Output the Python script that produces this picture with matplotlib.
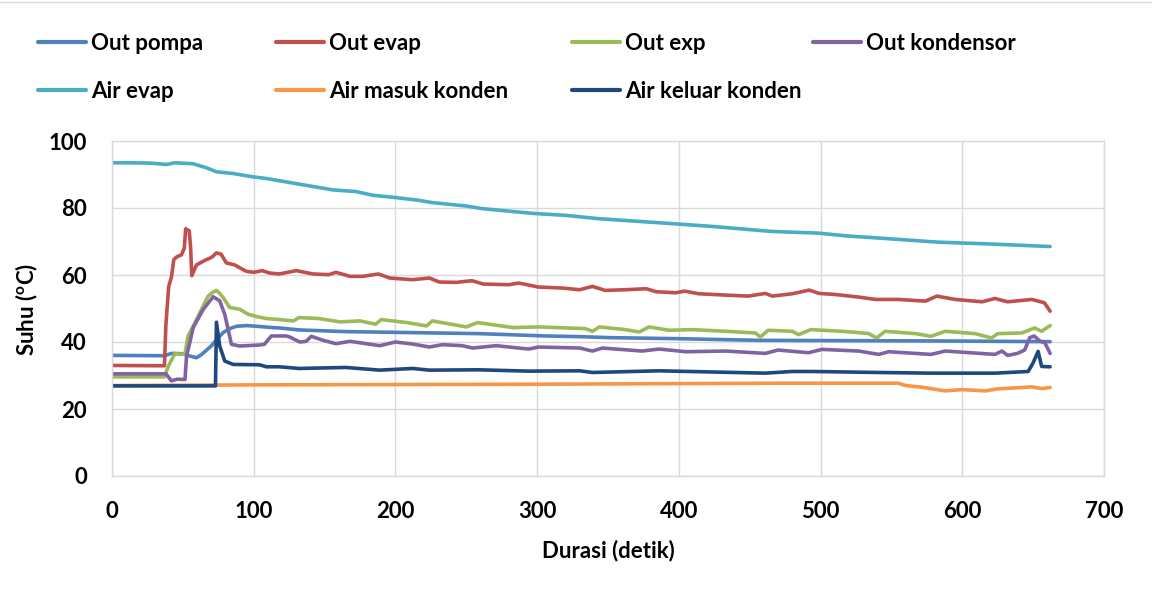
import matplotlib.pyplot as plt
from matplotlib.lines import Line2D

# waktu (detik) dan suhu (oC) tiap sensor
t_pompa = [0, 37, 42, 50, 55, 59.6, 63, 70, 74, 78.4,
           83, 88, 95, 105, 113, 118, 132, 165, 212, 259,
           306, 330, 351, 398, 456, 520, 590, 662]
out_pompa = [36.0, 35.9, 36.6, 36.5, 35.8, 35.3, 36.2, 38.8, 40.8, 42.8,
             44.0, 44.7, 44.9, 44.6, 44.3, 44.2, 43.6, 43.1, 42.8, 42.5,
             41.8, 41.6, 41.3, 41.0, 40.5, 40.4, 40.3, 40.1]

t_evap = [0, 37, 38, 40, 42, 43.6, 46, 49, 51, 52,
          54.5, 55.5, 56.3, 58, 59.6, 63, 66.6, 69, 71, 73.7,
          77, 79, 80.7, 86.6, 90, 94.8, 100, 106, 111, 118,
          130, 142, 153, 158, 168, 177, 188, 196, 212, 224,
          231, 243, 254, 262, 280, 287, 301, 318, 330, 339,
          348, 362, 377, 384, 398, 404, 414, 433, 449, 461,
          466, 480, 492, 499, 510, 527, 539, 555, 574, 582,
          595, 614, 623, 632, 649, 658, 662]
out_evap = [33.0, 32.9, 45, 56.5, 59.5, 64.6, 65.5, 66, 68, 73.8,
            73.2, 68, 59.8, 61.5, 63, 63.8, 64.6, 65, 65.5, 66.6,
            66.2, 64.8, 63.6, 63.0, 62.2, 61.1, 60.8, 61.3, 60.6, 60.3,
            61.3, 60.3, 60.1, 60.8, 59.6, 59.6, 60.3, 59.1, 58.6, 59.1,
            57.9, 57.8, 58.3, 57.3, 57.1, 57.6, 56.4, 56.1, 55.6, 56.6,
            55.4, 55.6, 55.9, 55.0, 54.7, 55.2, 54.4, 54.0, 53.7, 54.5,
            53.7, 54.4, 55.5, 54.5, 54.2, 53.4, 52.7, 52.7, 52.2, 53.7,
            52.7, 52.0, 53.0, 52.0, 52.7, 51.7, 49.2]

t_exp = [0, 37, 40, 44.4, 48, 51.5, 53.7, 57, 60.8, 64,
         67.8, 71, 73.7, 76, 78.4, 83, 90, 96, 101.9, 109,
         118, 128, 132, 146, 161, 175, 186, 190, 208, 222,
         226, 250, 258, 283, 301, 334, 339, 344, 362, 372,
         379, 393, 409, 433, 454, 457.5, 463, 480, 484.5, 493,
         515, 527, 534, 539.6, 545.5, 567, 578, 588, 609, 620.6,
         625, 642, 651, 656, 662]
out_exp = [29.6, 29.6, 33, 36.6, 36.3, 36.5, 41.8, 44.5, 47.7, 50.5,
           53.7, 54.8, 55.4, 54.5, 53.3, 50.3, 49.8, 48.3, 47.6, 47.0,
           46.7, 46.3, 47.3, 47.0, 46.0, 46.3, 45.3, 46.7, 45.8, 44.8,
           46.3, 44.5, 45.8, 44.3, 44.5, 44.0, 43.2, 44.5, 43.7, 43.0,
           44.5, 43.5, 43.7, 43.2, 42.7, 41.5, 43.5, 43.2, 42.2, 43.7,
           43.2, 42.8, 42.5, 41.2, 43.2, 42.5, 41.7, 43.2, 42.5, 41.2,
           42.5, 42.7, 44.2, 43.2, 44.9]

t_kond = [0, 38, 42, 46, 51.5, 52.6, 55, 57.3, 64.3, 71.4,
          76, 79.6, 84.3, 90, 104, 107.5, 112.4, 123, 125.4, 132.4,
          137, 140.6, 149, 158, 168, 189, 200, 212, 224, 233,
          247, 254.5, 271, 287, 294, 301, 330, 339, 346, 374,
          386, 405, 433, 461, 470, 491.5, 501, 527, 541, 548,
          578, 588, 623, 628, 632, 639, 644, 647.6, 650.7, 654.7,
          658.2, 662]
out_kond = [30.5, 30.5, 28.4, 28.9, 28.8, 35.8, 40, 44.3, 49.7, 53.5,
            52.3, 48.2, 39.3, 38.8, 39.1, 39.3, 41.8, 41.8, 41.5, 40.0,
            40.2, 41.7, 40.5, 39.5, 40.2, 38.9, 40.0, 39.4, 38.5, 39.2,
            38.9, 38.2, 38.9, 38.2, 37.9, 38.5, 38.2, 37.3, 38.2, 37.3,
            37.9, 37.1, 37.3, 36.6, 37.6, 36.8, 37.8, 37.3, 36.3, 37.1,
            36.3, 37.3, 36.3, 37.3, 36.0, 36.6, 37.6, 41.3, 41.8, 40.3,
            39.8, 36.6]

t_air_evap = [0, 12.7, 26.8, 38.5, 44.4, 57.3, 66.7, 73.7, 85.4, 99.5,
              109, 132.4, 155.9, 172.3, 184, 200.5, 214.6, 226.3, 249.8, 261.5,
              296.7, 320.2, 343.7, 371.8, 400, 423.5, 465.7, 498.6, 517.4, 552.6,
              583, 623, 662]
air_evap = [93.5, 93.5, 93.4, 93.0, 93.5, 93.2, 92.0, 90.8, 90.3, 89.3,
            88.8, 87.1, 85.4, 84.9, 83.8, 83.1, 82.4, 81.6, 80.6, 79.8,
            78.4, 77.8, 76.8, 76.0, 75.2, 74.5, 73.0, 72.5, 71.7, 70.7,
            69.8, 69.2, 68.5]

t_masuk = [0, 100, 300, 470, 555, 560, 571.5, 588, 600, 616, 625, 649, 656, 662]
air_masuk = [27.0, 27.2, 27.4, 27.7, 27.7, 27.0, 26.5, 25.4, 25.8, 25.4, 26.0, 26.6, 26.1, 26.4]

t_keluar = [0, 73, 73.7, 76, 79.6, 85.5, 104, 109, 118, 132,
            165, 189, 212, 224, 259, 294, 330, 339, 386, 461,
            480, 494, 541, 578, 623, 646.5, 650, 653.5, 656, 662]
air_keluar = [26.9, 26.9, 45.9, 38.8, 34.3, 33.3, 33.2, 32.6, 32.6, 32.1,
              32.4, 31.6, 32.1, 31.6, 31.7, 31.3, 31.4, 30.9, 31.4, 30.7,
              31.2, 31.2, 30.9, 30.7, 30.7, 31.2, 33.8, 37.2, 32.7, 32.6]

series = [
    ("Out pompa", t_pompa, out_pompa, "#4F81BD"),
    ("Out evap", t_evap, out_evap, "#C0504D"),
    ("Out exp", t_exp, out_exp, "#9BBB59"),
    ("Out kondensor", t_kond, out_kond, "#8064A2"),
    ("Air evap", t_air_evap, air_evap, "#4BACC6"),
    ("Air masuk konden", t_masuk, air_masuk, "#F79646"),
    ("Air keluar konden", t_keluar, air_keluar, "#1F497D"),
]

plt.rcParams["font.family"] = ["Lato", "DejaVu Sans"]
plt.rcParams["font.weight"] = "bold"
fs = 16

fig = plt.figure(figsize=(11.52, 5.97), dpi=100)
ax = fig.add_axes([112/1152, 1-476/597, 992/1152, 335/597])

handles = []
for name, t, v, c in series:
    ln, = ax.plot(t, v, color=c, lw=2.6, label=name,
                  solid_capstyle="round", solid_joinstyle="round")
    handles.append(ln)

ax.set_xlim(0, 700)
ax.set_ylim(0, 100)
ax.set_xticks(range(0, 701, 100))
ax.set_yticks(range(0, 101, 20))
ax.grid(True, color="#d9d9d9", lw=1.0)
ax.set_axisbelow(True)
for s in ax.spines.values():
    s.set_color("#d9d9d9")
    s.set_linewidth(1.0)
ax.tick_params(length=0, labelsize=fs, pad=18)
for lab in ax.get_xticklabels() + ax.get_yticklabels():
    lab.set_fontweight("bold")

fig.text(608/1152, 1-551/597, "Durasi (detik)", ha="center", va="center",
         fontsize=fs, fontweight="bold")
fig.text(27/1152, 1-309/597, "Suhu ($\\mathregular{^{o}}$C)", ha="center", va="center",
         rotation=90, fontsize=fs, fontweight="bold")

# legenda: 4 kolom, 2 baris
cols = [[0, 4], [1, 5], [2, 6], [3]]
col_x = [38/1152, 276/1152, 572/1152, 813/1152]
for idx, x in zip(cols, col_x):
    leg = fig.legend([handles[i] for i in idx], [series[i][0] for i in idx],
                     loc="upper left", bbox_to_anchor=(x, 0.945), frameon=False,
                     borderpad=0, borderaxespad=0, handlelength=2.15,
                     handletextpad=0.25, labelspacing=1.2,
                     prop={"size": fs, "weight": "bold"})
    for h in leg.legend_handles:
        h.set_linewidth(3)

fig.add_artist(Line2D([0, 1], [0.996, 0.996], color="#d9d9d9", lw=1))

fig.savefig("out.png", dpi=100)
plt.close()
